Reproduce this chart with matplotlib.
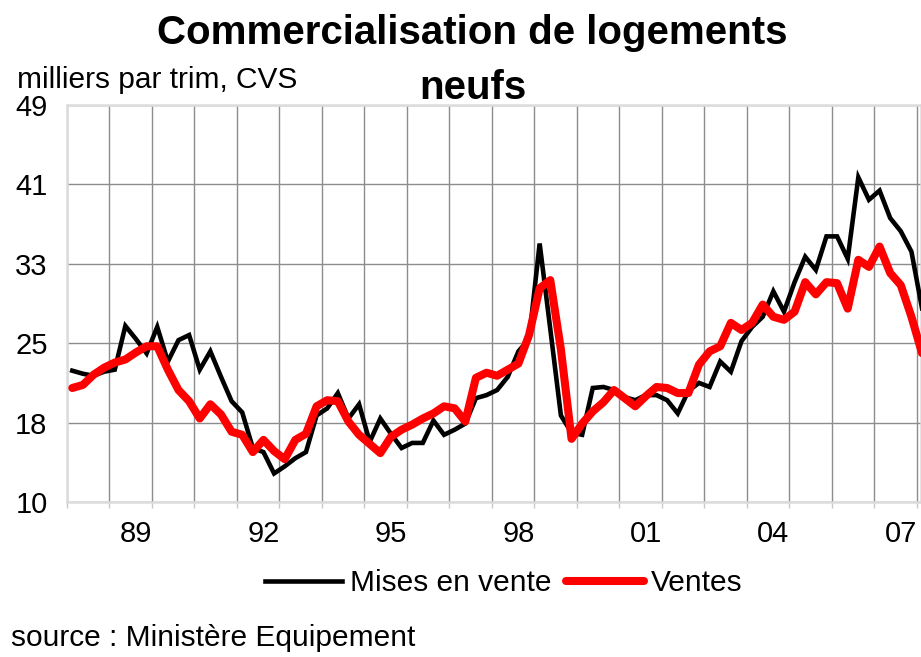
import numpy as np
import pandas as pd
import matplotlib
matplotlib.use("Agg")
import matplotlib.pyplot as plt

plt.rcParams["font.family"] = ["Liberation Sans", "DejaVu Sans"]

# Quarterly series, 1988Q1 - 2008Q1 (thousands per quarter, SA)
QUARTERS = pd.period_range("1988Q1", periods=81, freq="Q")

MISES_EN_VENTE = [
    22.9, 22.6, 22.4, 22.8, 23.0, 27.3, 26.0, 24.6, 27.2, 23.8,
    25.9, 26.4, 23.0, 24.8, 22.3, 19.9, 18.8, 15.3, 14.9, 12.8,
    13.5, 14.3, 14.9, 18.5, 19.2, 20.7, 18.2, 19.6, 15.9, 18.2,
    16.7, 15.3, 15.8, 15.8, 18.0, 16.6, 17.1, 17.7, 20.2, 20.5,
    21.0, 22.3, 24.8, 26.0, 35.4, 27.0, 18.5, 16.8, 16.6, 21.2,
    21.3, 21.0, 20.3, 20.0, 20.5, 20.5, 20.0, 18.7, 20.9, 21.7,
    21.3, 23.8, 22.8, 25.8, 27.2, 28.2, 30.7, 28.7, 31.6, 34.1,
    32.8, 36.1, 36.1, 33.9, 41.9, 39.7, 40.6, 37.9, 36.6, 34.6,
    29.0,
]

VENTES = [
    21.2, 21.5, 22.5, 23.2, 23.7, 24.0, 24.7, 25.3, 25.3, 23.0,
    21.0, 19.9, 18.2, 19.6, 18.6, 16.9, 16.6, 14.9, 16.1, 15.0,
    14.2, 16.1, 16.7, 19.4, 20.0, 19.9, 17.9, 16.6, 15.7, 14.8,
    16.4, 17.1, 17.6, 18.2, 18.7, 19.4, 19.2, 17.9, 22.2, 22.7,
    22.4, 23.0, 23.6, 26.4, 31.0, 31.8, 25.0, 16.2, 17.7, 18.9,
    19.8, 21.0, 20.2, 19.4, 20.4, 21.3, 21.2, 20.7, 20.7, 23.5,
    24.8, 25.3, 27.6, 26.9, 27.6, 29.4, 28.2, 27.9, 28.7, 31.6,
    30.4, 31.6, 31.5, 29.0, 33.8, 33.1, 35.1, 32.5, 31.3, 28.2,
    24.6,
]

YEAR_LABELS = ["89", "92", "95", "98", "01", "04", "07"]
LABEL_YEARS = [1989, 1992, 1995, 1998, 2001, 2004, 2007]
Y_TICK_LABELS = ["10", "18", "25", "33", "41", "49"]

# quarter centres as decimal years
x = np.array([q.year + (q.quarter - 0.5) / 4 for q in QUARTERS])

fig = plt.figure(figsize=(9.21, 6.57), dpi=100)
ax = fig.add_axes([0.0727, 0.236, 0.9273, 0.604])

ax.plot(x, MISES_EN_VENTE, color="black", lw=3.3, solid_joinstyle="miter",
        label="Mises en vente", zorder=3)
ax.plot(x, VENTES, color="#ff0000", lw=5.8, solid_joinstyle="round",
        solid_capstyle="round", label="Ventes", zorder=4)

ax.set_xlim(1988, 2008.1)
ax.set_ylim(10, 49)

yt = np.linspace(10, 49, 6)
ax.set_yticks(yt)
ax.set_yticklabels(Y_TICK_LABELS)
ax.tick_params(axis="y", length=0, pad=14, labelsize=21)

# gridlines at each year, labels centred on Q3 of every third year
ax.set_xticks(np.arange(1988, 2009), minor=True)
ax.set_xticks([y + 0.625 for y in LABEL_YEARS])
ax.set_xticklabels(YEAR_LABELS)
ax.tick_params(axis="x", which="major", length=0, pad=13, labelsize=21)
ax.tick_params(axis="x", which="minor", length=4, color="#c8c8c8", width=1)

ax.grid(True, axis="y", which="major", color="#8c8c8c", lw=1)
ax.grid(True, axis="x", which="minor", color="#8c8c8c", lw=1)
ax.grid(False, axis="x", which="major")
ax.set_axisbelow(True)

for s in ax.spines.values():
    s.set_color("#dcdcdc")
    s.set_linewidth(1.8)

fig.text(0.513, 1 - 33 / 657, "Commercialisation de logements",
         ha="center", va="center", fontsize=29, fontweight="bold")
fig.text(0.513, 1 - 88 / 657, "neufs",
         ha="center", va="center", fontsize=29, fontweight="bold")
fig.text(0.018, 1 - 80 / 657, "milliers par trim, CVS",
         ha="left", va="center", fontsize=21.5)
fig.text(0.012, 1 - 638 / 657, "source : Ministère Equipement",
         ha="left", va="center", fontsize=21.5)

fig.legend(loc="center", bbox_to_anchor=(0.547, 1 - 583 / 657), ncol=2,
           frameon=False, fontsize=21.5, handlelength=2.6, handletextpad=0.25,
           columnspacing=0.5)

fig.savefig("out.png", dpi=100)
